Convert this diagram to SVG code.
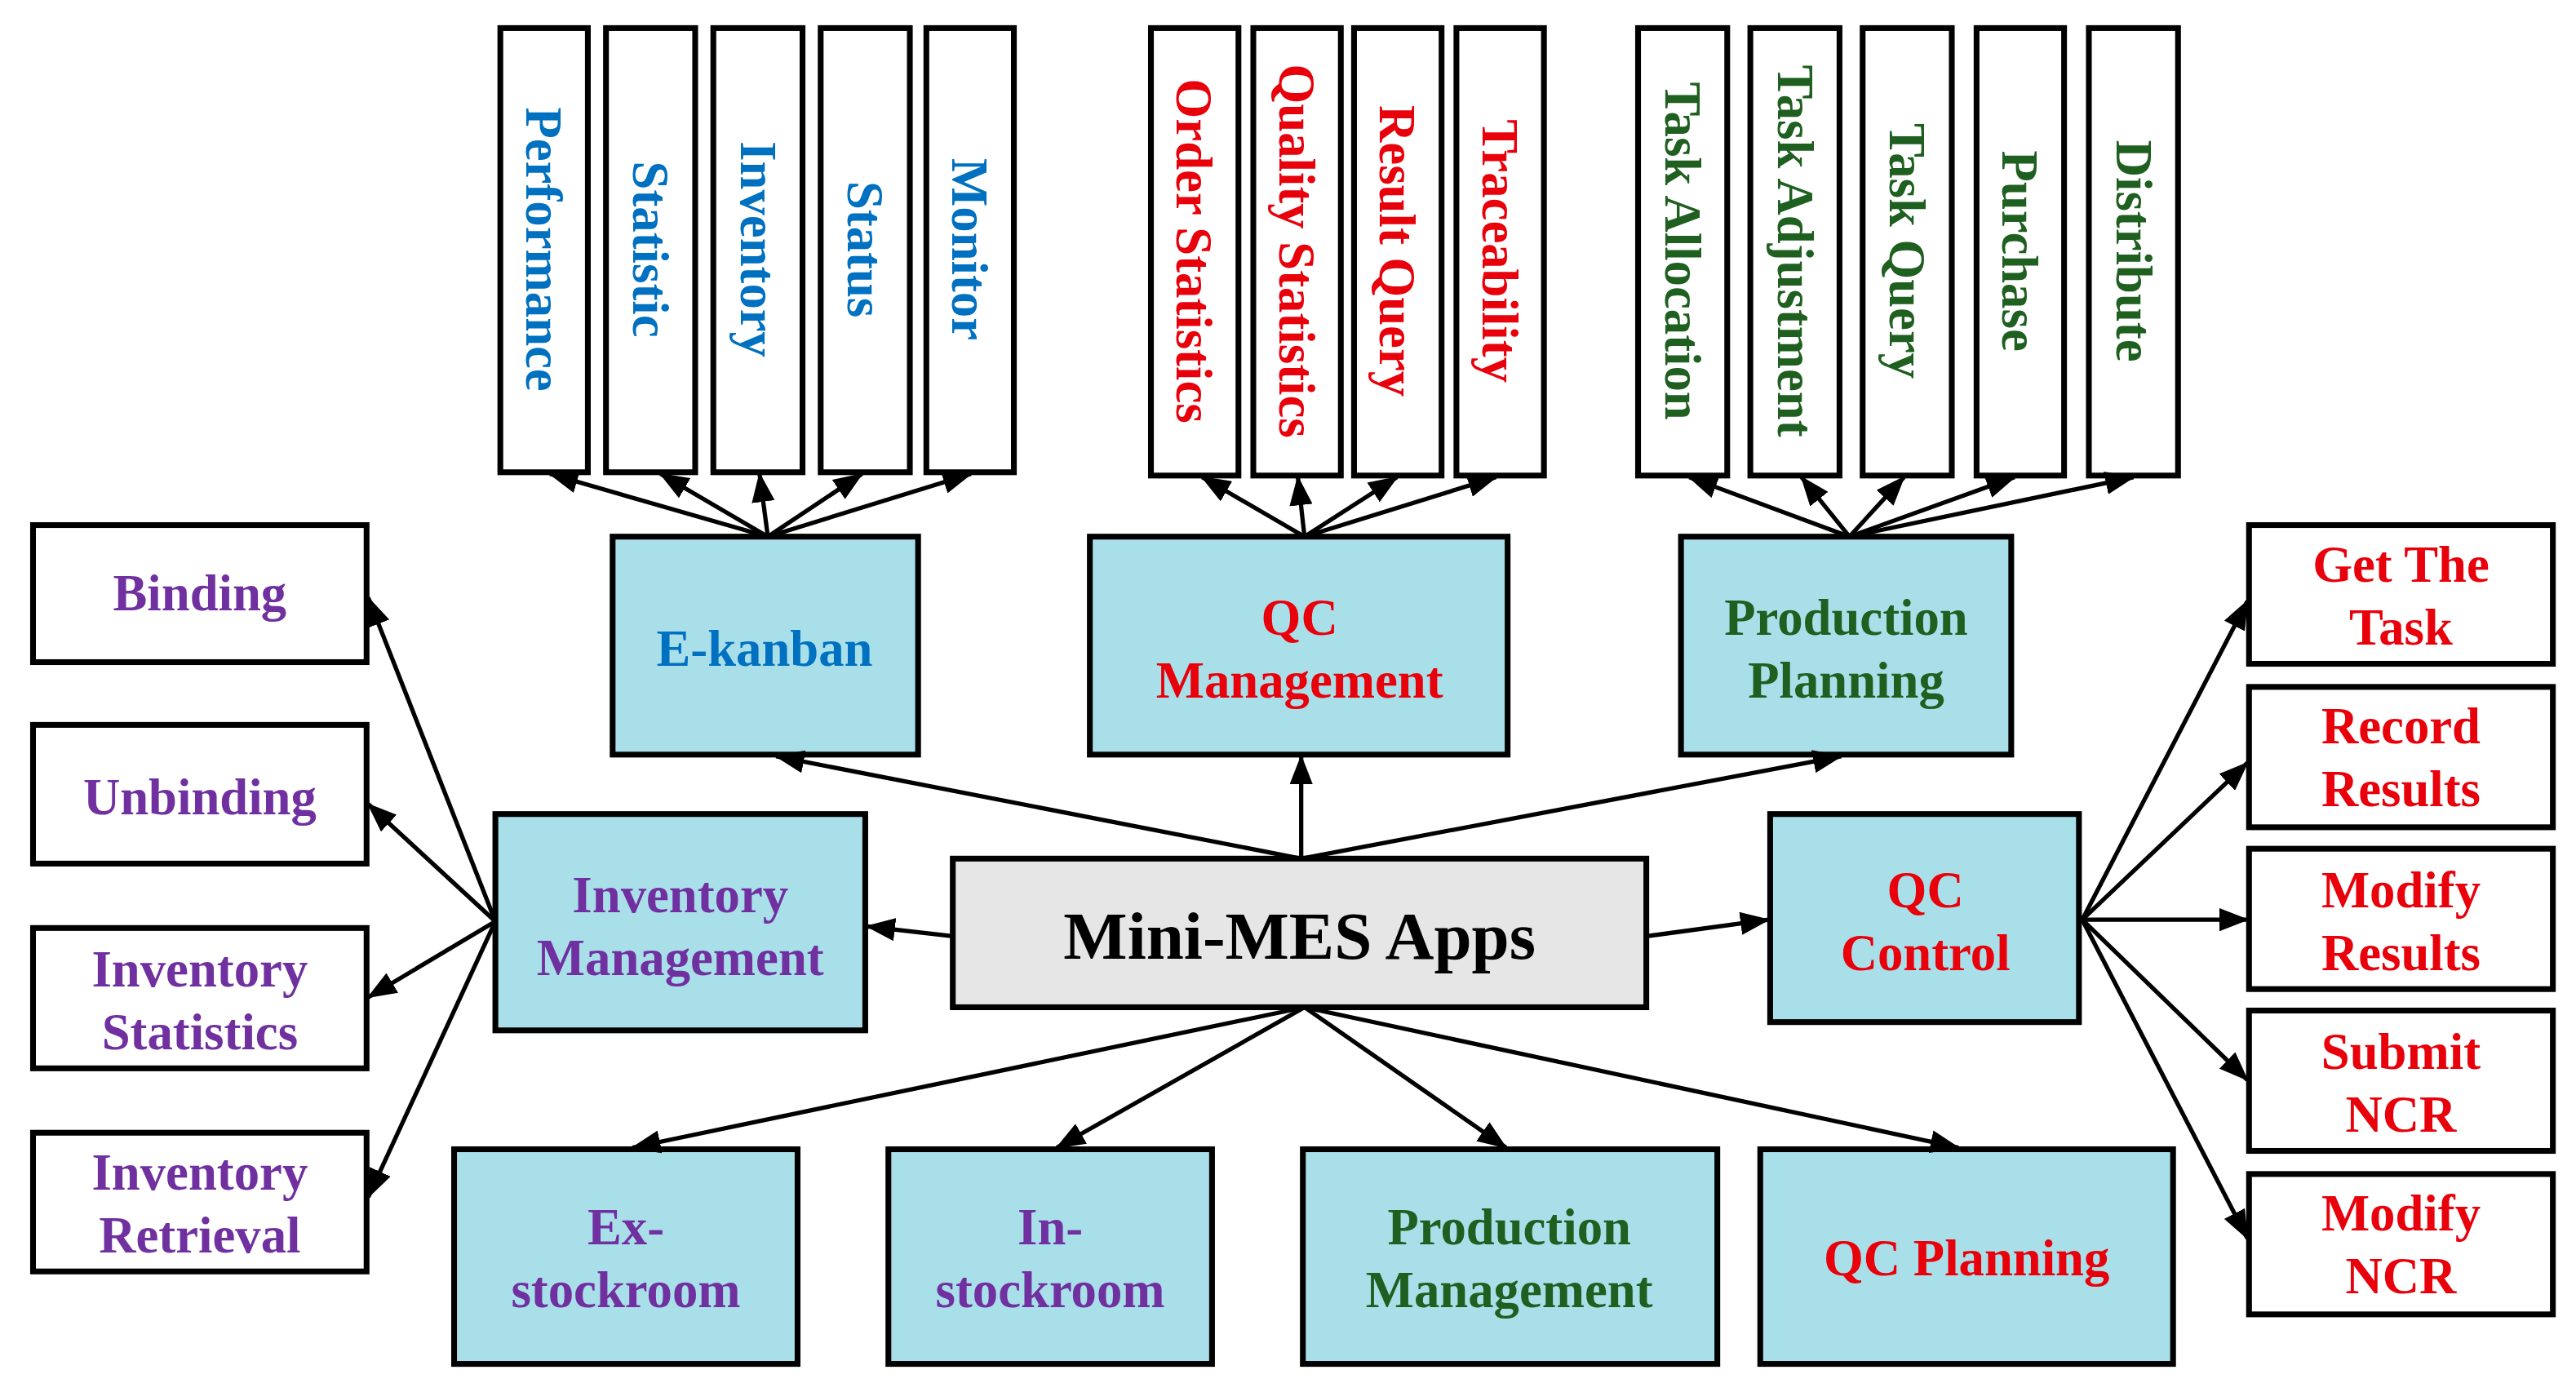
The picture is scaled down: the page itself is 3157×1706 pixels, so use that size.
<svg xmlns="http://www.w3.org/2000/svg" width="3157" height="1706" viewBox="0 0 3157 1706">
<style>
.w{fill:#fff;stroke:#000;stroke-width:3.5}
.c{fill:#a9dfe9;stroke:#000;stroke-width:3.5}
.g{fill:#e6e6e6;stroke:#000;stroke-width:3.5}
text{font-family:"Liberation Serif","Times New Roman",serif;font-weight:bold;text-anchor:middle;dominant-baseline:central}
.v{font-size:31px}
.m{font-size:31px}
.bl{fill:#0070c0}.rd{fill:#e8000b}.gr{fill:#1f5f1f}.pu{fill:#7030a0}
.cn line{stroke:#000;stroke-width:2.6;marker-end:url(#a)}
</style>
<defs><marker id="a" markerUnits="userSpaceOnUse" markerWidth="18" markerHeight="14" refX="17" refY="7" orient="auto"><path d="M0,0L18,7L0,14z" fill="#000"/></marker></defs>
<rect width="3157" height="1706" fill="#fff"/>
<g transform="scale(2.0237)">
<g id="performance"><rect class="w" x="303" y="17" width="53" height="269"/><text class="v bl" transform="translate(329,151) rotate(90)">Performance</text></g>
<g id="statistic"><rect class="w" x="367" y="17" width="54" height="269"/><text class="v bl" transform="translate(394,151) rotate(90)">Statistic</text></g>
<g id="inventory"><rect class="w" x="432" y="17" width="54" height="269"/><text class="v bl" transform="translate(459,151) rotate(90)">Inventory</text></g>
<g id="status"><rect class="w" x="497" y="17" width="54" height="269"/><text class="v bl" transform="translate(524,151) rotate(90)">Status</text></g>
<g id="monitor"><rect class="w" x="561" y="17" width="53" height="269"/><text class="v bl" transform="translate(587,151) rotate(90)">Monitor</text></g>

<g id="orderstat"><rect class="w" x="697" y="17" width="53" height="271"/><text class="v rd" transform="translate(723,152) rotate(90)">Order Statistics</text></g>
<g id="qualstat"><rect class="w" x="759" y="17" width="53" height="271"/><text class="v rd" transform="translate(785,152) rotate(90)">Quality Statistics</text></g>
<g id="resultq"><rect class="w" x="820" y="17" width="53" height="271"/><text class="v rd" transform="translate(846,152) rotate(90)">Result Query</text></g>
<g id="trace"><rect class="w" x="882" y="17" width="53" height="271"/><text class="v rd" transform="translate(908,152) rotate(90)">Traceability</text></g>

<g id="taskalloc"><rect class="w" x="992" y="17" width="54" height="271"/><text class="v gr" transform="translate(1019,152) rotate(90)">Task Allocation</text></g>
<g id="taskadj"><rect class="w" x="1060" y="17" width="54" height="271"/><text class="v gr" transform="translate(1087,152) rotate(90)">Task Adjustment</text></g>
<g id="taskq"><rect class="w" x="1128" y="17" width="54" height="271"/><text class="v gr" transform="translate(1155,152) rotate(90)">Task Query</text></g>
<g id="purchase"><rect class="w" x="1197" y="17" width="53" height="271"/><text class="v gr" transform="translate(1223,152) rotate(90)">Purchase</text></g>
<g id="distribute"><rect class="w" x="1265" y="17" width="54" height="271"/><text class="v gr" transform="translate(1292,152) rotate(90)">Distribute</text></g>

<g id="ekanban"><rect class="c" x="371" y="325" width="185" height="132"/><text class="m bl" x="463" y="393">E-kanban</text></g>
<g id="qcmgmt"><rect class="c" x="660" y="325" width="253" height="132"/><text class="m rd" x="787" y="374">QC</text><text class="m rd" x="787" y="412">Management</text></g>
<g id="pplan"><rect class="c" x="1018" y="325" width="200" height="132"/><text class="m gr" x="1118" y="374">Production</text><text class="m gr" x="1118" y="412">Planning</text></g>
<g id="invmgmt"><rect class="c" x="300" y="493" width="224" height="131"/><text class="m pu" x="412" y="542">Inventory</text><text class="m pu" x="412" y="580">Management</text></g>
<g id="minimes"><rect class="g" x="577" y="520" width="420" height="90"/><text x="787" y="567" style="font-size:41px;fill:#000">Mini-MES Apps</text></g>
<g id="qccontrol"><rect class="c" x="1072" y="493" width="187" height="126"/><text class="m rd" x="1166" y="539">QC</text><text class="m rd" x="1166" y="577">Control</text></g>
<g id="exstock"><rect class="c" x="275" y="696" width="208" height="130"/><text class="m pu" x="379" y="743">Ex-</text><text class="m pu" x="379" y="781">stockroom</text></g>
<g id="instock"><rect class="c" x="538" y="696" width="196" height="130"/><text class="m pu" x="636" y="743">In-</text><text class="m pu" x="636" y="781">stockroom</text></g>
<g id="prodmgmt"><rect class="c" x="789" y="696" width="251" height="130"/><text class="m gr" x="914" y="743">Production</text><text class="m gr" x="914" y="781">Management</text></g>
<g id="qcplan"><rect class="c" x="1066" y="696" width="250" height="130"/><text class="m rd" x="1191" y="762">QC Planning</text></g>

<g id="binding"><rect class="w" x="20" y="318" width="202" height="83"/><text class="m pu" x="121" y="359">Binding</text></g>
<g id="unbinding"><rect class="w" x="20" y="439" width="202" height="84"/><text class="m pu" x="121" y="483">Unbinding</text></g>
<g id="invstat"><rect class="w" x="20" y="562" width="202" height="85"/><text class="m pu" x="121" y="587">Inventory</text><text class="m pu" x="121" y="625">Statistics</text></g>
<g id="invret"><rect class="w" x="20" y="686" width="202" height="84"/><text class="m pu" x="121" y="710">Inventory</text><text class="m pu" x="121" y="748">Retrieval</text></g>

<g id="gettask"><rect class="w" x="1362" y="318" width="184" height="84"/><text class="m rd" x="1454" y="342">Get The</text><text class="m rd" x="1454" y="380">Task</text></g>
<g id="recres"><rect class="w" x="1362" y="416" width="184" height="85"/><text class="m rd" x="1454" y="440">Record</text><text class="m rd" x="1454" y="478">Results</text></g>
<g id="modres"><rect class="w" x="1362" y="514" width="184" height="85"/><text class="m rd" x="1454" y="539">Modify</text><text class="m rd" x="1454" y="577">Results</text></g>
<g id="subncr"><rect class="w" x="1362" y="612" width="184" height="85"/><text class="m rd" x="1454" y="637">Submit</text><text class="m rd" x="1454" y="675">NCR</text></g>
<g id="modncr"><rect class="w" x="1362" y="711" width="184" height="85"/><text class="m rd" x="1454" y="735">Modify</text><text class="m rd" x="1454" y="773">NCR</text></g>

<g class="cn" id="connectors">
<line x1="465" y1="325" x2="333" y2="287"/><line x1="465" y1="325" x2="400" y2="287"/><line x1="465" y1="325" x2="460" y2="287"/><line x1="465" y1="325" x2="522" y2="287"/><line x1="465" y1="325" x2="588" y2="287"/>
<line x1="790" y1="325" x2="728" y2="289"/><line x1="790" y1="325" x2="786" y2="289"/><line x1="790" y1="325" x2="846" y2="289"/><line x1="790" y1="325" x2="906" y2="289"/>
<line x1="1120" y1="325" x2="1023" y2="289"/><line x1="1120" y1="325" x2="1091" y2="289"/><line x1="1120" y1="325" x2="1153" y2="289"/><line x1="1120" y1="325" x2="1220" y2="289"/><line x1="1120" y1="325" x2="1292" y2="289"/>
<line x1="788" y1="520" x2="470" y2="458"/><line x1="788" y1="520" x2="788" y2="458"/><line x1="788" y1="520" x2="1115" y2="458"/>
<line x1="577" y1="567" x2="525" y2="561"/><line x1="997" y1="567" x2="1071" y2="557"/>
<line x1="790" y1="610" x2="383" y2="695"/><line x1="790" y1="610" x2="640" y2="695"/><line x1="790" y1="610" x2="912" y2="695"/><line x1="790" y1="610" x2="1186" y2="695"/>
<line x1="300" y1="558" x2="223" y2="362"/><line x1="300" y1="558" x2="223" y2="487"/><line x1="300" y1="558" x2="223" y2="604"/><line x1="300" y1="558" x2="223" y2="725"/>
<line x1="1261" y1="557" x2="1361" y2="364"/><line x1="1261" y1="557" x2="1361" y2="462"/><line x1="1261" y1="557" x2="1361" y2="557"/><line x1="1261" y1="557" x2="1361" y2="654"/><line x1="1261" y1="557" x2="1361" y2="750"/>
</g>
</g>
</svg>
